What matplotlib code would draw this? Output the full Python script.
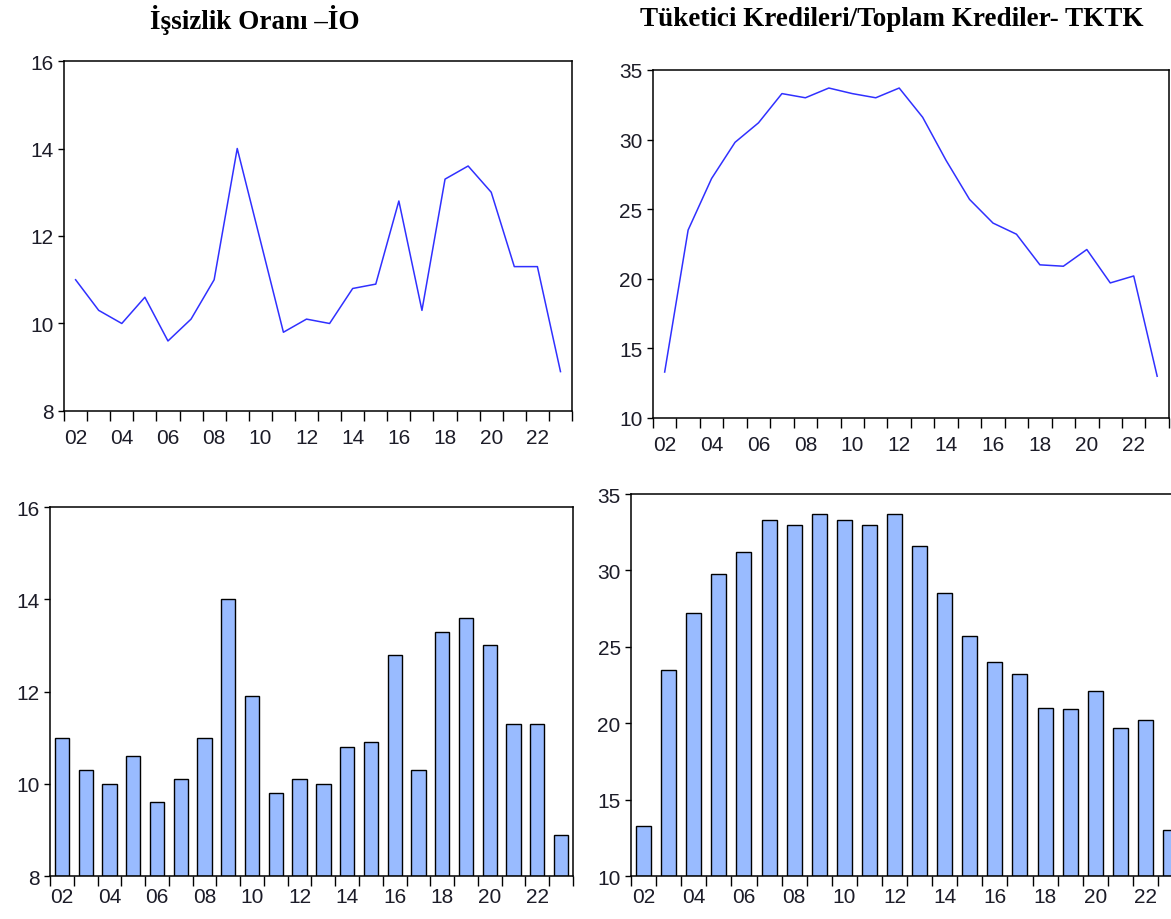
import matplotlib
matplotlib.use("Agg")
import matplotlib.pyplot as plt
from matplotlib.ticker import FixedLocator

years = list(range(2002, 2024))
label_years = list(range(2002, 2024, 2))
label_text = [f"{y % 100:02d}" for y in label_years]

# issizlik orani (IO)
io = [11.0, 10.3, 10.0, 10.6, 9.6, 10.1, 11.0, 14.0, 11.9, 9.8, 10.1,
      10.0, 10.8, 10.9, 12.8, 10.3, 13.3, 13.6, 13.0, 11.3, 11.3, 8.9]
# tuketici kredileri / toplam krediler (TKTK)
tktk = [13.3, 23.5, 27.2, 29.8, 31.2, 33.3, 33.0, 33.7, 33.3, 33.0, 33.7,
        31.6, 28.5, 25.7, 24.0, 23.2, 21.0, 20.9, 22.1, 19.7, 20.2, 13.0]

io_ticks = [8, 10, 12, 14, 16]
tktk_ticks = [10, 15, 20, 25, 30, 35]

LINE_COLOR = "#3030ff"
BAR_COLOR = "#99bbff"
TEXT_COLOR = "#1c1c28"

fig = plt.figure(figsize=(11.71, 9.2), dpi=100)


def style_axes(ax, yticks, label_pad):
    ax.set_xlim(years[0] - 0.5, years[-1] + 0.5)
    ax.set_ylim(yticks[0], yticks[-1])
    for sp in ax.spines.values():
        sp.set_linewidth(1.1)
        sp.set_color("black")
    # tick marks on year boundaries, labels centred on even years
    ax.xaxis.set_major_locator(FixedLocator([y - 0.5 for y in years] + [years[-1] + 0.5]))
    ax.set_xticklabels([], minor=False)
    ax.set_xticks(label_years, labels=label_text, minor=True)
    ax.tick_params(axis="x", which="major", direction="out", length=7.5, width=1.0)
    ax.tick_params(axis="x", which="minor", length=0, pad=label_pad,
                   labelsize=15, labelcolor=TEXT_COLOR)
    ax.set_yticks(yticks)
    ax.tick_params(axis="y", direction="out", length=4.5, width=1.0, pad=3,
                   labelsize=15, labelcolor=TEXT_COLOR)
    for lab in ax.get_xticklabels(minor=True) + ax.get_yticklabels():
        lab.set_fontfamily("Liberation Sans")


ax1 = fig.add_axes([0.0547, 0.5522, 0.4338, 0.3804])
ax1.plot(years, io, color=LINE_COLOR, lw=1.1)
style_axes(ax1, io_ticks, 12)

ax2 = fig.add_axes([0.5576, 0.5446, 0.4406, 0.3783])
ax2.plot(years, tktk, color=LINE_COLOR, lw=1.1)
style_axes(ax2, tktk_ticks, 12)

ax3 = fig.add_axes([0.0427, 0.0467, 0.4466, 0.4011])
ax3.bar(years, [v - io_ticks[0] for v in io], bottom=io_ticks[0], width=0.6,
        color=BAR_COLOR, edgecolor="black", linewidth=1.0)
style_axes(ax3, io_ticks, 8)

ax4 = fig.add_axes([0.5389, 0.0467, 0.4714, 0.4152])
ax4.bar(years, [v - tktk_ticks[0] for v in tktk], bottom=tktk_ticks[0], width=0.6,
        color=BAR_COLOR, edgecolor="black", linewidth=1.0)
style_axes(ax4, tktk_ticks, 8)

fig.text(255 / 1171, 1 - 20 / 920, "İşsizlik Oranı –İO", ha="center", va="center",
         fontfamily="Liberation Serif", fontweight="bold", fontsize=19.5)
fig.text(892 / 1171, 1 - 20 / 920, "Tüketici Kredileri/Toplam Krediler- TKTK",
         ha="center", va="center", fontfamily="Liberation Serif",
         fontweight="bold", fontsize=19.5)

fig.savefig("out.png", dpi=100)
